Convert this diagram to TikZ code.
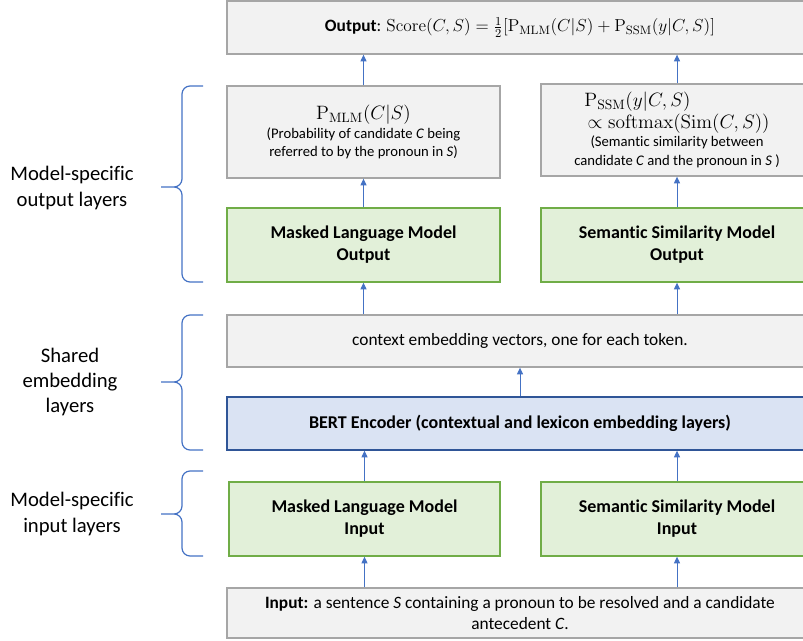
\RequirePackage{fix-cm}
\documentclass[tikz,border=0pt]{standalone}
\usepackage[no-math]{fontspec}
\setmainfont{Carlito}[Ligatures=NoCommon]
\usepackage{tikz}
\usetikzlibrary{arrows.meta}
\definecolor{boxgray}{HTML}{F2F2F2}
\definecolor{edgegray}{HTML}{A6A6A6}
\definecolor{boxgreen}{HTML}{E2F0D9}
\definecolor{edgegreen}{HTML}{70AD47}
\definecolor{boxblue}{HTML}{DAE3F3}
\definecolor{edgeblue}{HTML}{2F5597}
\definecolor{linkblue}{HTML}{4472C4}
\tikzstyle{arrow}=[-{Triangle[length=5pt,width=4.5pt]},line width=.75pt,draw=linkblue]
\tikzstyle{layer}=[draw=edgegray,fill=boxgray,line width=1pt,align=center,inner sep=2pt,font=\fontsize{13}{15.5}\selectfont]
\tikzstyle{prob}=[layer,font=\fontsize{11}{14}\selectfont]
\tikzstyle{model}=[layer,draw=edgegreen,fill=boxgreen,font=\fontsize{13.5}{16.5}\selectfont\bfseries]
\tikzstyle{encoder}=[layer,draw=edgeblue,fill=boxblue,font=\fontsize{13.5}{16.5}\selectfont\bfseries]
\tikzstyle{brace}=[draw=linkblue,line width=.9pt,rounded corners=6pt]
\tikzstyle{group}=[align=center,font=\fontsize{15.5}{19}\selectfont]
\newcommand{\bigmath}[1]{{\fontsize{14.5}{15}\selectfont #1}}

\begin{document}
\begin{tikzpicture}[x=.75pt,y=-.75pt]
	\useasboundingbox (0,0) rectangle (803,641);

	%output
	\node[layer,minimum width=439.5pt,minimum height=39.75pt] (out) at (520,27.5)
		{\textbf{Output}: $\mathrm{Score}(C,S)=\frac{1}{2}\bigl[\mathrm{P}_{\mathrm{MLM}}(C|S)+\mathrm{P}_{\mathrm{SSM}}(y|C,S)\bigr]$};

	%probabilities
	\node[prob,minimum width=204.75pt,minimum height=69pt] (pmlm) at (363.5,132)
		{\bigmath{$\mathrm{P}_{\mathrm{MLM}}(C|S)$}\\(Probability of candidate \textit{C} being\\referred to by the pronoun in \textit{S})};
	\node[prob,minimum width=204pt,minimum height=69pt] (pssm) at (677,130)
		{\bigmath{\begin{tabular}{@{}l@{}}$\mathrm{P}_{\mathrm{SSM}}(y|C,S)$\\[1pt]$\,\propto\mathrm{softmax}\bigl(\mathrm{Sim}(C,S)\bigr)$\end{tabular}}\\
		(Semantic similarity between\\candidate \textit{C} and the pronoun in \textit{S} )};

	%model outputs
	\node[model,minimum width=204.75pt,minimum height=55.5pt] (mlmout) at (363.5,245) {Masked Language Model\\Output};
	\node[model,minimum width=204pt,minimum height=55.5pt] (ssmout) at (677,245) {Semantic Similarity Model\\Output};

	%shared layers
	\node[layer,minimum width=439.5pt,minimum height=39pt] (ctx) at (520,341) {context embedding vectors, one for each token.};
	\node[encoder,minimum width=439.5pt,minimum height=39.75pt] (bert) at (520,423.5) {BERT Encoder (contextual and lexicon embedding layers)};

	%model inputs
	\node[model,minimum width=203.25pt,minimum height=55.5pt] (mlmin) at (364.5,519) {Masked Language Model\\Input};
	\node[model,minimum width=204pt,minimum height=55.5pt] (ssmin) at (677,519) {Semantic Similarity Model\\Input};

	%input
	\node[layer,minimum width=439.5pt,minimum height=37.5pt] (inp) at (520,613)
		{\textbf{Input:} a sentence \textit{S} containing a pronoun to be resolved and a candidate\\antecedent \textit{C}.};

	%arrows
	\draw[arrow] (inp.north -| mlmin) -- (mlmin.south);
	\draw[arrow] (inp.north -| ssmin) -- (ssmin.south);
	\draw[arrow] (mlmin.north) -- (bert.south -| mlmin);
	\draw[arrow] (ssmin.north) -- (bert.south -| ssmin);
	\draw[arrow] (bert.north) -- (ctx.south);
	\draw[arrow] (ctx.north -| mlmout) -- (mlmout.south);
	\draw[arrow] (ctx.north -| ssmout) -- (ssmout.south);
	\draw[arrow] (mlmout.north) -- (pmlm.south);
	\draw[arrow] (ssmout.north) -- (pssm.south);
	\draw[arrow] (pmlm.north) -- (out.south -| pmlm);
	\draw[arrow] (pssm.north) -- (out.south -| pssm);

	%braces and labels
	\draw[brace] (203,86) -- (182,86) -- (182,187) -- (161,187)
		(161,187) -- (182,187) -- (182,282) -- (203,282);
	\draw[brace] (203,315) -- (182,315) -- (182,382) -- (161,382)
		(161,382) -- (182,382) -- (182,450) -- (203,450);
	\draw[brace] (203,471) -- (182,471) -- (182,514) -- (161,514)
		(161,514) -- (182,514) -- (182,556) -- (203,556);
	\node[group] (outlbl) at (72,188) {Model-specific\\output layers};
	\node[group] (emblbl) at (70,382) {Shared\\embedding\\layers};
	\node[group] (inlbl) at (72,514) {Model-specific\\input layers};
\end{tikzpicture}
\end{document}
